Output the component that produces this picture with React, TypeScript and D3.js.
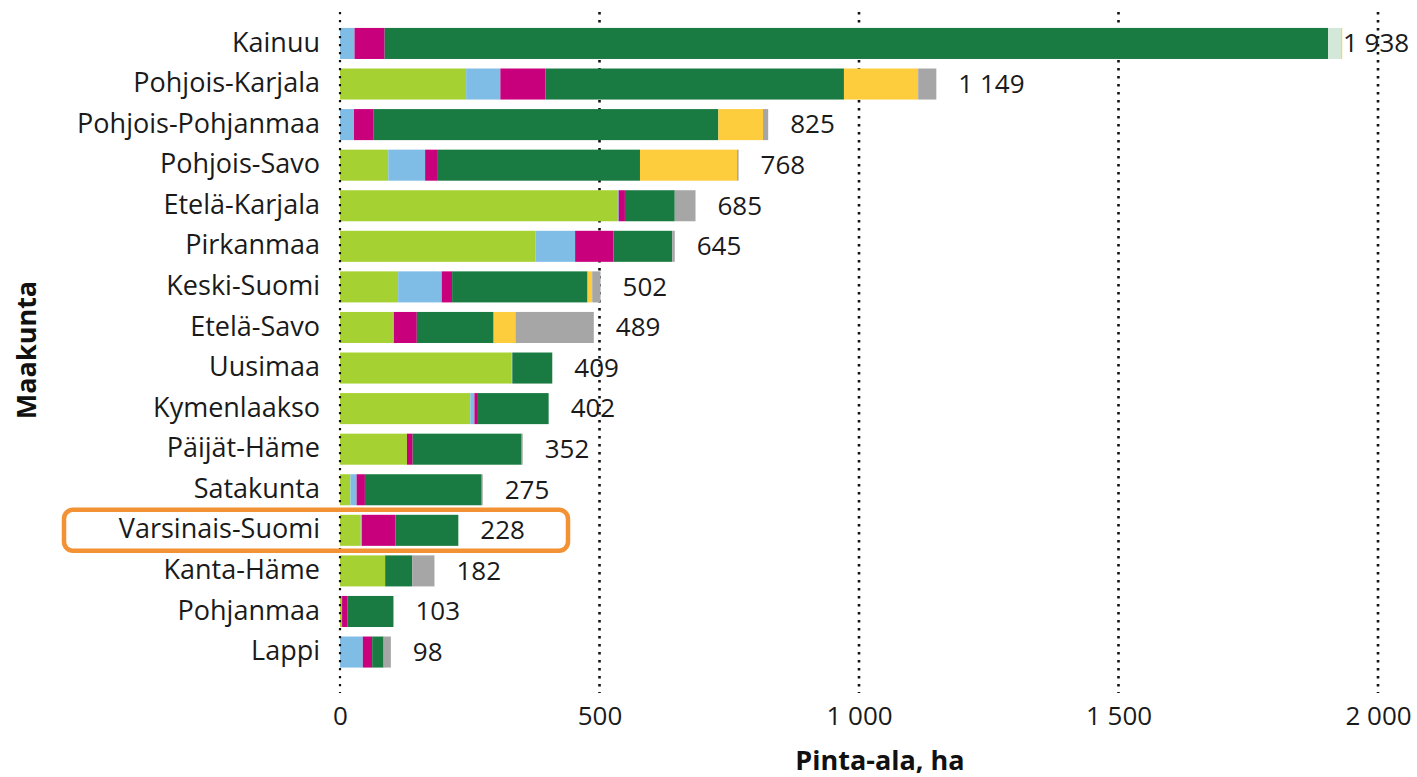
import React, { useEffect, useRef } from 'react';
import * as d3 from 'd3';

// maakunnat, ylhäältä alas
const regions = [
  'Kainuu', 'Pohjois-Karjala', 'Pohjois-Pohjanmaa', 'Pohjois-Savo', 'Etelä-Karjala',
  'Pirkanmaa', 'Keski-Suomi', 'Etelä-Savo', 'Uusimaa', 'Kymenlaakso',
  'Päijät-Häme', 'Satakunta', 'Varsinais-Suomi', 'Kanta-Häme', 'Pohjanmaa', 'Lappi',
];

// pinta-alat (ha) sarjoittain
const lightGreen = [0, 243, 0, 93, 534, 377, 112, 102, 330, 251, 129, 20, 40, 87, 4, 0];
const lightBlue = [28, 66, 27, 71, 3, 76, 84, 2, 2, 8, 0, 12, 2, 0, 0, 44];
const magenta = [58, 87, 37, 23, 12, 74, 20, 44, 0, 5, 11, 16, 65, 0, 10, 18];
const darkGreen = [1818, 575, 665, 391, 96, 113, 261, 148, 77, 138, 210, 225, 121, 52, 89, 22];
const pale = [25, 0, 0, 0, 0, 0, 0, 0, 0, 0, 0, 0, 0, 0, 0, 0];
const yellow = [2, 143, 86, 187, 0, 0, 9, 42, 0, 0, 0, 0, 0, 0, 0, 0];
const gray = [0, 35, 10, 3, 40, 5, 16, 151, 0, 0, 2, 2, 0, 43, 0, 14];

const totals = [1938, 1149, 825, 768, 685, 645, 502, 489, 409, 402, 352, 275, 228, 182, 103, 98];
const xTicks = [0, 500, 1000, 1500, 2000];
const highlighted = 'Varsinais-Suomi';

const seriesKeys = ['lightGreen', 'lightBlue', 'magenta', 'darkGreen', 'pale', 'yellow', 'gray'];
const seriesColors = ['#a6d132', '#7fbde6', '#c8007c', '#1a7b42', '#d3e8d9', '#fecd3d', '#a6a6a6'];

const App = () => {
  const svgRef = useRef(null);

  useEffect(() => {
    const svg = d3.select(svgRef.current);
    svg.selectAll('*').remove();
    const width = 1417;
    const height = 777;
    const font = "'Open Sans', sans-serif";

    const fi = d3.formatLocale({ decimal: ',', thousands: '\u00a0', grouping: [3], currency: ['', ' €'] });
    const fmt = fi.format(',d');

    const table = regions.map((r, i) => ({
      region: r,
      lightGreen: lightGreen[i],
      lightBlue: lightBlue[i],
      magenta: magenta[i],
      darkGreen: darkGreen[i],
      pale: pale[i],
      yellow: yellow[i],
      gray: gray[i],
      total: totals[i],
    }));

    const x = d3.scaleLinear().domain([0, 2000]).range([340, 1378]);
    const y = d3.scaleBand().domain(regions).range([18.4, 677.1]).padding(0.235);
    const color = d3.scaleOrdinal().domain(seriesKeys).range(seriesColors);
    const stack = d3.stack().keys(seriesKeys)(table);

    // pystysuorat pisteviivat
    const grid = svg.append('g');
    grid.selectAll('line')
      .data(xTicks.filter(t => t > 0))
      .enter()
      .append('line')
      .attr('x1', d => x(d))
      .attr('x2', d => x(d))
      .attr('y1', 12)
      .attr('y2', 693)
      .attr('stroke', '#111')
      .attr('stroke-width', 2.6)
      .attr('stroke-dasharray', '2.6,5.4');

    svg.append('g')
      .selectAll('g')
      .data(stack)
      .enter()
      .append('g')
      .attr('fill', d => color(d.key))
      .selectAll('rect')
      .data(d => d)
      .enter()
      .append('rect')
      .attr('x', d => x(d[0]))
      .attr('y', d => y(d.data.region))
      .attr('width', d => Math.max(0, x(d[1]) - x(d[0])))
      .attr('height', y.bandwidth());

    // nolla-akseli palkkien päällä
    svg.append('line')
      .attr('x1', x(0))
      .attr('x2', x(0))
      .attr('y1', 12)
      .attr('y2', 693)
      .attr('stroke', '#111')
      .attr('stroke-width', 2.2)
      .attr('stroke-dasharray', '2.2,5.8');

    // maakuntien nimet
    svg.append('g')
      .selectAll('text')
      .data(regions)
      .enter()
      .append('text')
      .attr('x', 320)
      .attr('y', d => y(d) + y.bandwidth() / 2)
      .attr('dy', '0.3em')
      .attr('text-anchor', 'end')
      .attr('font-family', font)
      .attr('font-size', 27)
      .attr('fill', '#1a1a1a')
      .text(d => d);

    // summat palkkien perään
    svg.append('g')
      .selectAll('text')
      .data(table)
      .enter()
      .append('text')
      .attr('x', d => Math.min(x(d.total) + 22, width - 74))
      .attr('y', d => y(d.region) + y.bandwidth() / 2)
      .attr('dy', '0.34em')
      .attr('font-family', font)
      .attr('font-size', 26)
      .attr('fill', '#1a1a1a')
      .text(d => fmt(d.total));

    // x-akselin luvut
    const xAxis = d3.axisBottom(x).tickValues(xTicks).tickSize(0).tickFormat(d => fmt(d));
    const ax = svg.append('g').attr('transform', 'translate(0, 704)').call(xAxis);
    ax.select('.domain').remove();
    ax.selectAll('text')
      .attr('font-family', font)
      .attr('font-size', 26)
      .attr('fill', '#1a1a1a');

    svg.append('text')
      .attr('x', 880)
      .attr('y', 770)
      .attr('text-anchor', 'middle')
      .attr('font-family', font)
      .attr('font-size', 27)
      .attr('font-weight', 'bold')
      .attr('fill', '#111')
      .text('Pinta-ala, ha');

    svg.append('text')
      .attr('transform', 'translate(36, 350) rotate(-90)')
      .attr('text-anchor', 'middle')
      .attr('font-family', font)
      .attr('font-size', 27)
      .attr('font-weight', 'bold')
      .attr('fill', '#111')
      .text('Maakunta');

    // korostettu rivi
    const hy = y(highlighted);
    svg.append('rect')
      .attr('x', 64)
      .attr('y', hy - 5)
      .attr('width', 504)
      .attr('height', y.bandwidth() + 10)
      .attr('rx', 9)
      .attr('fill', 'none')
      .attr('stroke', '#f39234')
      .attr('stroke-width', 4.5);

    svg.attr('width', width).attr('height', height);
  }, []);

  return (
    <div style={{ position: 'absolute', left: 0, top: 0 }}>
      <svg ref={svgRef} width="1417" height="777"></svg>
    </div>
  );
};

export default App;
